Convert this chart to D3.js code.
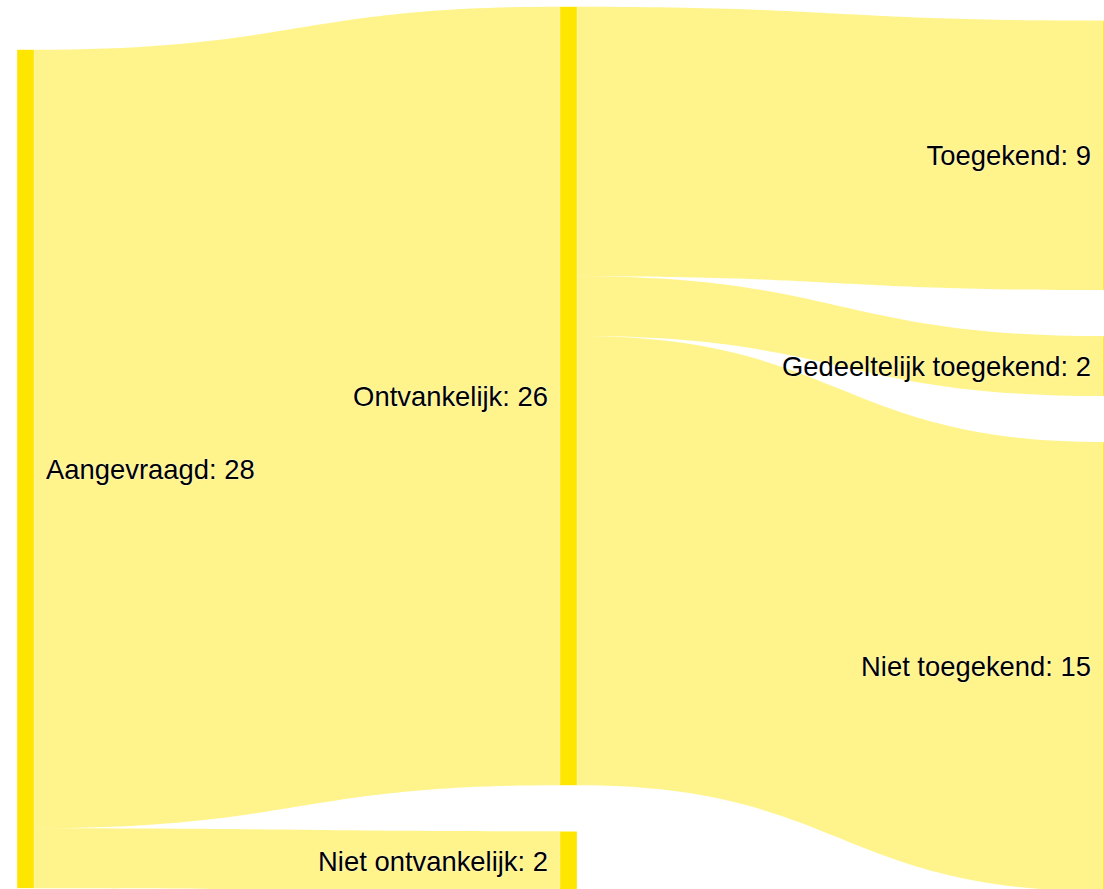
<!DOCTYPE html>
<html>
<head>
<meta charset="utf-8">
<script src="https://cdn.jsdelivr.net/npm/d3@7"></script>
<style>
  html, body { margin: 0; padding: 0; background: #fff; }
  svg { display: block; }
  .label {
    font-family: "Liberation Sans", Arial, Helvetica, sans-serif;
    font-size: 27.4px;
    fill: #000;
    text-shadow: 0 0 2px rgba(255,255,255,0.9);
  }
</style>
</head>
<body>
<svg id="chart" width="1104" height="889"></svg>
<script>
// ---- Data ----
const nodeNames = ["Aangevraagd", "Ontvankelijk", "Niet ontvankelijk", "Toegekend", "Gedeeltelijk toegekend", "Niet toegekend"];
const linkSources = [0, 0, 1, 1, 1];
const linkTargets = [1, 2, 3, 4, 5];
const linkValues = [26, 2, 9, 2, 15];

// ---- Layout constants ----
const W = 1104, H = 889;
const ext = { x0: 17, x1: 1120, y0: 6.7, y1: 891.2 };
const nodeWidth = 17, nodePad = 46, labelGap = 12;
const firstColumnLift = 3; // first column sits slightly above the bottom edge
const nodeColor = "#ffe600";
const linkColor = "#ffe600", linkOpacity = 0.45;

// ---- Build graph ----
const nodes = nodeNames.map((name, i) => ({ name, index: i, sourceLinks: [], targetLinks: [] }));
const links = linkValues.map((v, i) => ({ source: nodes[linkSources[i]], target: nodes[linkTargets[i]], value: v }));
links.forEach(l => { l.source.sourceLinks.push(l); l.target.targetLinks.push(l); });
nodes.forEach(n => {
  n.value = Math.max(d3.sum(n.sourceLinks, l => l.value), d3.sum(n.targetLinks, l => l.value));
  n.depth = 0;
});
let changed = true;
while (changed) {
  changed = false;
  links.forEach(l => { if (l.target.depth < l.source.depth + 1) { l.target.depth = l.source.depth + 1; changed = true; } });
}
const maxDepth = d3.max(nodes, n => n.depth);
const columns = d3.groups(nodes, n => n.depth).sort((a, b) => a[0] - b[0]).map(d => d[1]);
const ky = d3.min(columns, c => (ext.y1 - ext.y0 - (c.length - 1) * nodePad) / d3.sum(c, n => n.value));

const x = d3.scaleLinear().domain([0, maxDepth]).range([ext.x0, ext.x1 - nodeWidth]);
const h = d3.scaleLinear().domain([0, 1]).range([0, ky]);

columns.forEach((col, ci) => {
  let y = ext.y1 - (ci === 0 ? firstColumnLift : 0);
  for (let i = col.length - 1; i >= 0; i--) {
    const n = col[i];
    n.y1 = y; n.y0 = y - h(n.value);
    y = n.y0 - nodePad;
  }
  col.forEach(n => { n.x0 = x(n.depth); n.x1 = n.x0 + nodeWidth; });
});
links.forEach(l => l.width = h(l.value));
nodes.forEach(n => {
  n.sourceLinks.sort((a, b) => a.target.y0 - b.target.y0);
  n.targetLinks.sort((a, b) => a.source.y0 - b.source.y0);
  let y = n.y0;
  n.sourceLinks.forEach(l => { l.sy0 = y; y += l.width; l.sy1 = y; });
  y = n.y0;
  n.targetLinks.forEach(l => { l.ty0 = y; y += l.width; l.ty1 = y; });
});

function linkPath(l) {
  const xa = l.source.x1, xb = l.target.x0;
  const xi = d3.interpolateNumber(xa, xb);
  const c0 = xi(0.5), c1 = xi(0.5);
  const p = d3.path();
  p.moveTo(xa, l.sy0);
  p.bezierCurveTo(c0, l.sy0, c1, l.ty0, xb, l.ty0);
  p.lineTo(xb, l.ty1);
  p.bezierCurveTo(c1, l.ty1, c0, l.sy1, xa, l.sy1);
  p.closePath();
  return p.toString();
}

// ---- Draw ----
const svg = d3.select("#chart");
svg.append("rect").attr("width", W).attr("height", H).attr("fill", "#fff");

svg.append("g").selectAll("path")
  .data(links).join("path")
  .attr("d", linkPath)
  .attr("fill", linkColor)
  .attr("fill-opacity", linkOpacity);

svg.append("g").selectAll("rect")
  .data(nodes).join("rect")
  .attr("x", d => d.x0).attr("y", d => d.y0)
  .attr("width", d => d.x1 - d.x0).attr("height", d => d.y1 - d.y0)
  .attr("fill", nodeColor)
  .attr("stroke", "#fff").attr("stroke-width", 0.5).attr("stroke-opacity", 0.6);

svg.append("g").selectAll("text")
  .data(nodes).join("text")
  .attr("class", "label")
  .attr("x", d => d.depth === 0 ? d.x1 + labelGap : d.x0 - labelGap)
  .attr("y", d => (d.y0 + d.y1) / 2)
  .attr("dy", "0.35em")
  .attr("text-anchor", d => d.depth === 0 ? "start" : "end")
  .text(d => `${d.name}: ${d.value}`);
</script>
</body>
</html>
